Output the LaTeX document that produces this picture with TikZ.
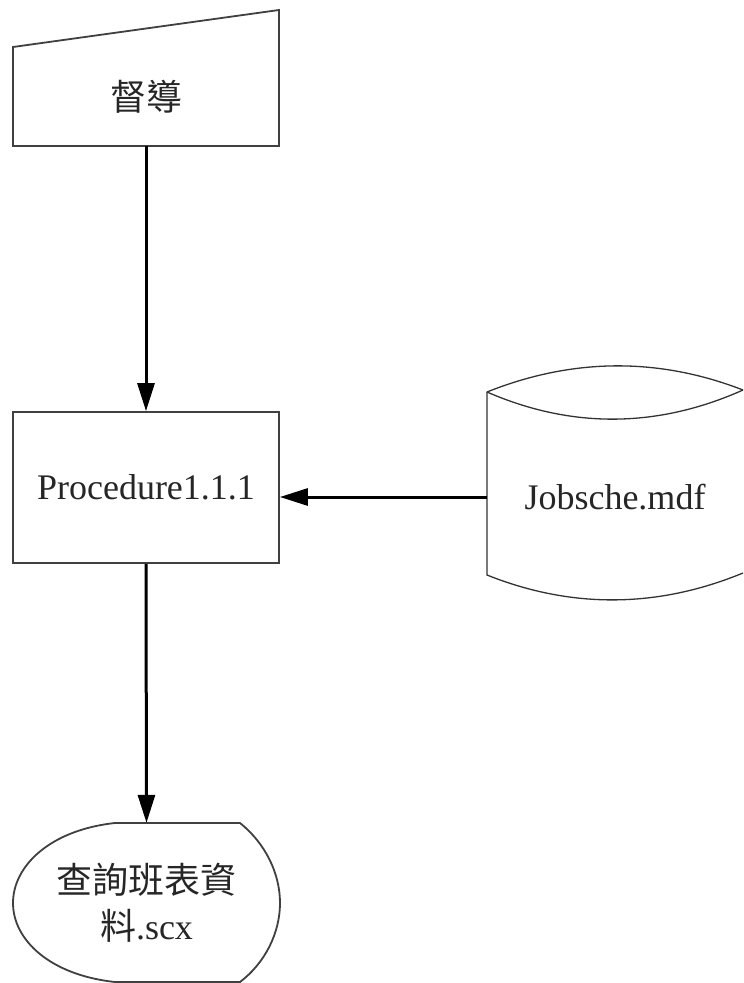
\documentclass[tikz,border=0pt]{standalone}
\usepackage{fontspec}
\setmainfont{Liberation Serif}
\newfontfamily\cjk{Noto Sans CJK TC}
\usetikzlibrary{arrows.meta}
\begin{document}
\begin{tikzpicture}[x=1pt,y=-1pt,
  outline/.style={draw=black!75,line width=1.8pt},
  thinline/.style={draw=black!80,line width=1.3pt},
  lbl/.style={font=\fontsize{36}{46}\selectfont,text=black!85,inner sep=0pt,align=center},
  flow/.style={draw=black,line width=3pt,-{Triangle[length=28pt,width=17pt]}}]
\useasboundingbox[fill=white] (0,0) rectangle (744,983);
% supervisor (manual input)
\draw[outline] (13,47) -- (279,10) -- (279,146) -- (13,146) -- cycle;
\node[lbl,minimum width=266pt,minimum height=99pt] (sup) at (146,96.5) {\cjk 督導};
% procedure
\node[lbl,outline,minimum width=266pt,minimum height=151pt,inner sep=0pt] (proc) at (146,487.5) {Procedure1.1.1};
% database
\draw[thinline] (743,390) .. controls (658,357) and (572,358) .. (487,392) -- (487,575)
  .. controls (572,609) and (658,608) .. (743,573);
\draw[thinline] (487,392) .. controls (572,429) and (658,428) .. (743,390);
\node[lbl,minimum width=256pt,minimum height=183pt] (db) at (615,497) {Jobsche.mdf};
% display
\draw[outline] (115,823) -- (240,823)
  .. controls (265,843) and (280,873) .. (280,903)
  .. controls (280,933) and (265,963) .. (240,982)
  -- (115,982)
  .. controls (50,975) and (13,940) .. (13,903)
  .. controls (13,866) and (50,830) .. (115,823) -- cycle;
\node[lbl,minimum width=267pt,minimum height=160pt] (disp) at (146.5,903) {{\cjk 查詢班表資}\\{\cjk 料}.scx};
% connectors
\draw[flow] (sup.south) -- (proc.north);
\draw[flow] (db.west) -- (proc.east |- db.west);
\draw[flow] (proc.south) -- (disp.north);
\end{tikzpicture}
\end{document}
